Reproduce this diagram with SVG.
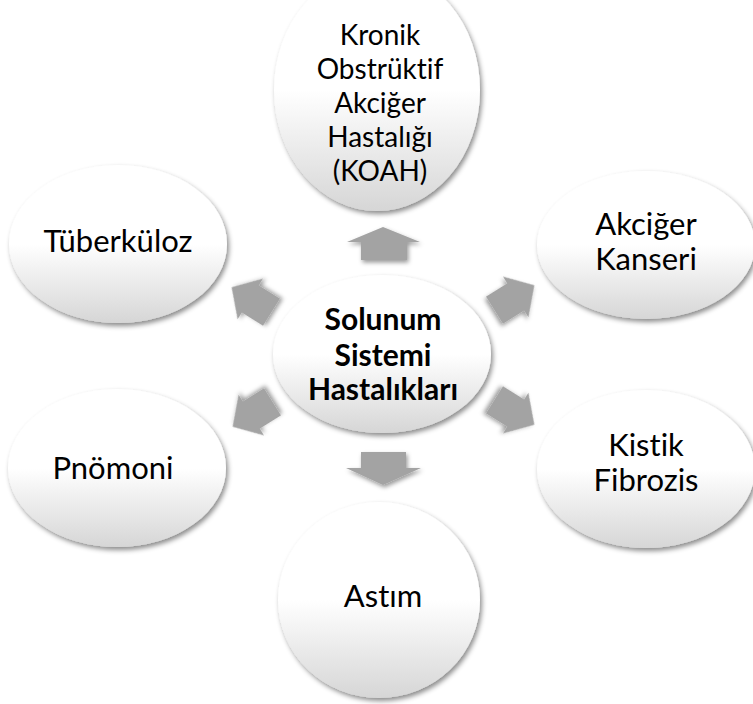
<svg xmlns="http://www.w3.org/2000/svg" xmlns:xlink="http://www.w3.org/1999/xlink" width="753" height="704" viewBox="0 0 753 704">
  <defs>
    <linearGradient id="bubbleFill" x1="0" y1="0" x2="0" y2="1">
      <stop offset="0" stop-color="#ffffff"/>
      <stop offset="0.5" stop-color="#ffffff"/>
      <stop offset="1" stop-color="#d6d6d6"/>
    </linearGradient>
    <filter id="softShadow" x="-20%" y="-20%" width="140%" height="140%">
      <feDropShadow dx="2" dy="3" stdDeviation="2.5" flood-color="#000" flood-opacity="0.45"/>
    </filter>
    <filter id="arrowShadow" x="-30%" y="-30%" width="160%" height="160%">
      <feDropShadow dx="1.5" dy="2.5" stdDeviation="2" flood-color="#000" flood-opacity="0.4"/>
    </filter>
    <!-- block arrow pointing up, centred on the origin -->
    <path id="diagArrow" d="M0,-24 L24,-2 L16,-2 L16,23 L-16,23 L-16,-2 L-24,-2 Z"/>
  </defs>
  <style>
    .bubble { fill: url(#bubbleFill); filter: url(#softShadow); }
    .label { font-family: Lato, "Open Sans", "DejaVu Sans", sans-serif; font-size: 31px; fill: #000; text-anchor: middle; font-variant-ligatures: none; font-feature-settings: "liga" 0; }
    .tall { font-size: 28px; }
    .hub { font-weight: bold; font-size: 30px; }
    .arrow { fill: #a3a3a3; filter: url(#arrowShadow); }
  </style>

  <g id="connectors">
    <polygon class="arrow" points="383,227 420,242 407,242 407,260 361,260 361,242 347,242"/>
    <polygon class="arrow" points="383,485 421,468 406,468 406,452 361,452 361,468 346,468"/>
    <use class="arrow" xlink:href="#diagArrow" transform="translate(252,300) rotate(-58)"/>
    <use class="arrow" xlink:href="#diagArrow" transform="translate(514,298) rotate(58)"/>
    <use class="arrow" xlink:href="#diagArrow" transform="translate(253,414) rotate(-122)"/>
    <use class="arrow" xlink:href="#diagArrow" transform="translate(514,412) rotate(122)"/>
  </g>

  <g id="node-koah">
    <ellipse class="bubble" cx="377" cy="90" rx="103" ry="121"/>
    <text class="label tall" x="380" y="45">Kronik</text>
    <text class="label tall" x="380" y="79">Obstrüktif</text>
    <text class="label tall" x="380" y="113">Akciğer</text>
    <text class="label tall" x="380" y="147">Hastalığı</text>
    <text class="label tall" x="380" y="181">(KOAH)</text>
  </g>

  <g id="node-tuberkuloz">
    <ellipse class="bubble" cx="118" cy="244" rx="109" ry="79"/>
    <text class="label" x="118" y="252">Tüberküloz</text>
  </g>

  <g id="node-akciger-kanseri">
    <ellipse class="bubble" cx="646" cy="245" rx="109" ry="74"/>
    <text class="label" x="646" y="235">Akciğer</text>
    <text class="label" x="646" y="270">Kanseri</text>
  </g>

  <g id="node-solunum">
    <ellipse class="bubble" cx="382" cy="354" rx="109" ry="79"/>
    <text class="label hub" x="383" y="330">Solunum</text>
    <text class="label hub" x="383" y="366">Sistemi</text>
    <text class="label hub" x="383" y="400">Hastalıkları</text>
  </g>

  <g id="node-pnomoni">
    <ellipse class="bubble" cx="117" cy="468" rx="109" ry="79"/>
    <text class="label" x="113" y="479">Pnömoni</text>
  </g>

  <g id="node-kistik-fibrozis">
    <ellipse class="bubble" cx="646" cy="469" rx="109" ry="79"/>
    <text class="label" x="646" y="456">Kistik</text>
    <text class="label" x="646" y="491">Fibrozis</text>
  </g>

  <g id="node-astim">
    <ellipse class="bubble" cx="379" cy="600" rx="101" ry="98"/>
    <text class="label" x="383" y="607">Astım</text>
  </g>
</svg>
